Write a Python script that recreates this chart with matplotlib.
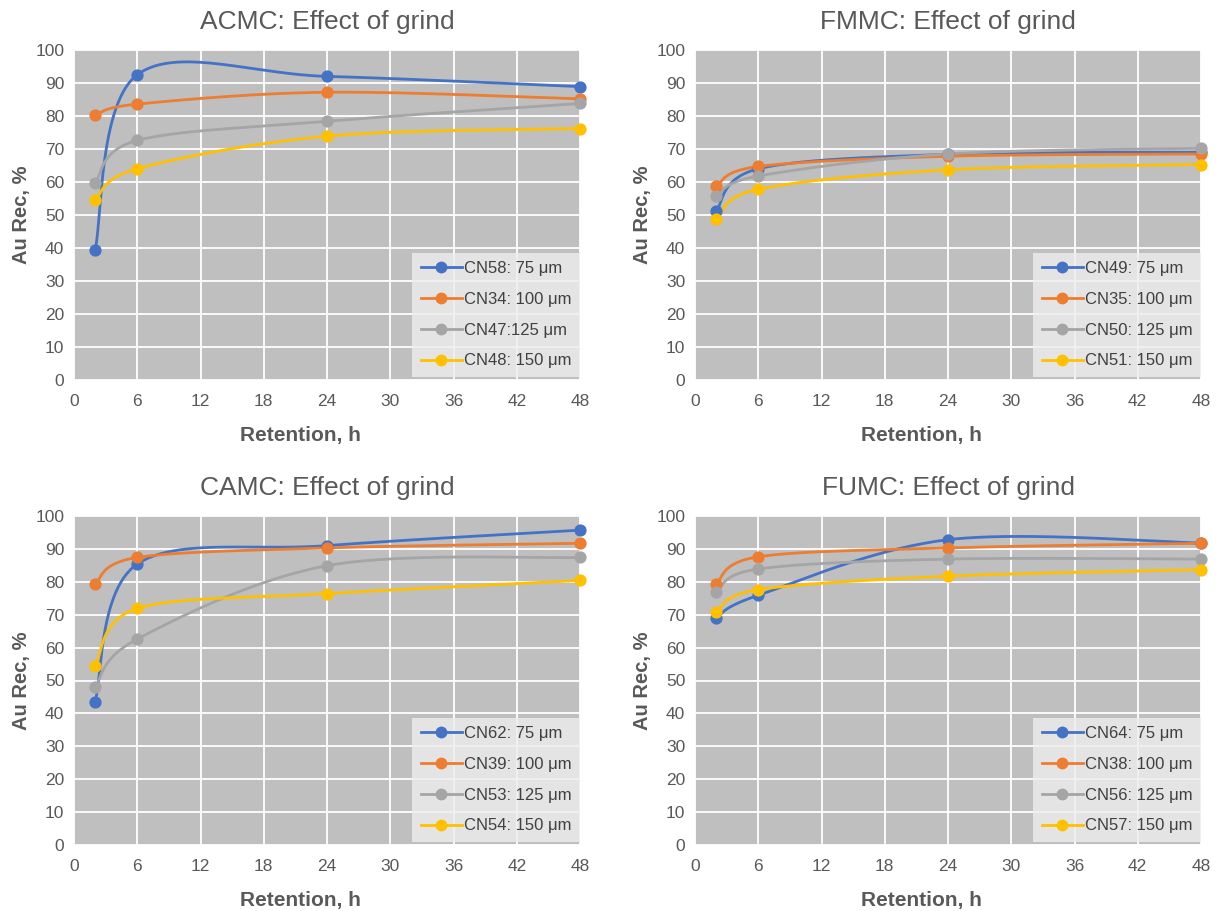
import numpy as np
import matplotlib
matplotlib.use("Agg")
import matplotlib.pyplot as plt
from matplotlib.lines import Line2D

plt.rcParams['font.family'] = ['Liberation Sans', 'DejaVu Sans']

# Retention times (h)
hours = [2, 6, 24, 48]

# ACMC
acmc_title = "ACMC: Effect of grind"
acmc_labels = ["CN58: 75 μm", "CN34: 100 μm", "CN47:125 μm", "CN48: 150 μm"]
acmc_75 = [39.4, 92.5, 92.0, 88.9]
acmc_100 = [80.2, 83.6, 87.2, 85.2]
acmc_125 = [59.8, 72.6, 78.4, 83.8]
acmc_150 = [54.5, 64.0, 73.9, 76.2]

# FMMC
fmmc_title = "FMMC: Effect of grind"
fmmc_labels = ["CN49: 75 μm", "CN35: 100 μm", "CN50: 125 μm", "CN51: 150 μm"]
fmmc_75 = [51.1, 64.0, 68.4, 69.0]
fmmc_100 = [58.7, 64.7, 67.8, 68.5]
fmmc_125 = [55.7, 61.8, 68.5, 70.2]
fmmc_150 = [48.7, 57.8, 63.7, 65.3]

# CAMC
camc_title = "CAMC: Effect of grind"
camc_labels = ["CN62: 75 μm", "CN39: 100 μm", "CN53: 125 μm", "CN54: 150 μm"]
camc_75 = [43.5, 85.4, 91.0, 95.7]
camc_100 = [79.4, 87.4, 90.3, 91.7]
camc_125 = [47.9, 62.6, 84.9, 87.4]
camc_150 = [54.4, 71.9, 76.4, 80.4]

# FUMC
fumc_title = "FUMC: Effect of grind"
fumc_labels = ["CN64: 75 μm", "CN38: 100 μm", "CN56: 125 μm", "CN57: 150 μm"]
fumc_75 = [69.0, 75.9, 92.8, 91.8]
fumc_100 = [79.4, 87.6, 90.3, 91.7]
fumc_125 = [76.9, 83.9, 86.9, 86.9]
fumc_150 = [70.7, 77.6, 81.7, 83.7]

x_ticks = [0, 6, 12, 18, 24, 30, 36, 42, 48]
y_ticks = [0, 10, 20, 30, 40, 50, 60, 70, 80, 90, 100]

colors = ["#4472C4", "#ED7D31", "#A5A5A5", "#FFC000"]
text_color = "#595959"
bg_color = "#BFBFBF"


def smooth_curve(x, y, n=60):
    """Cubic Bezier smoothing through the points (Catmull-Rom style)."""
    pts = np.column_stack([x, y]).astype(float)
    P = np.vstack([pts[0], pts, pts[-1]])
    t = np.linspace(0, 1, n)[:, None]
    out = []
    for i in range(1, len(P) - 2):
        p0, p1, p2, p3 = P[i - 1], P[i], P[i + 1], P[i + 2]
        c1 = p1 + (p2 - p0) / 6.0
        c2 = p2 - (p3 - p1) / 6.0
        B = ((1 - t) ** 3) * p1 + 3 * ((1 - t) ** 2) * t * c1 \
            + 3 * (1 - t) * t ** 2 * c2 + t ** 3 * p2
        out.append(B if i == 1 else B[1:])
    seg = np.vstack(out)
    return seg[:, 0], seg[:, 1]


W, H = 1219, 911
fig = plt.figure(figsize=(W / 100, H / 100), dpi=100)


def make_axes(left, top, right, bottom):
    return fig.add_axes([left / W, 1 - bottom / H, (right - left) / W, (bottom - top) / H])


panels = [
    (make_axes(74, 50, 580, 380), acmc_title, acmc_labels, [acmc_75, acmc_100, acmc_125, acmc_150]),
    (make_axes(695, 50, 1201, 380), fmmc_title, fmmc_labels, [fmmc_75, fmmc_100, fmmc_125, fmmc_150]),
    (make_axes(74, 516, 580, 845), camc_title, camc_labels, [camc_75, camc_100, camc_125, camc_150]),
    (make_axes(695, 516, 1201, 845), fumc_title, fumc_labels, [fumc_75, fumc_100, fumc_125, fumc_150]),
]

for ax, title, labels, series in panels:
    ax.set_facecolor(bg_color)
    for s in ax.spines.values():
        s.set_visible(False)
    ax.set_xlim(0, 48)
    ax.set_ylim(0, 100)
    ax.set_xticks(x_ticks)
    ax.set_yticks(y_ticks)
    ax.grid(True, color="white", linewidth=1.3)
    ax.set_axisbelow(True)
    ax.tick_params(axis="y", length=0, labelsize=12.5, labelcolor=text_color, pad=7)
    ax.tick_params(axis="x", length=0, labelsize=12.5, labelcolor=text_color, pad=10)

    handles = []
    for vals, col, lab in zip(series, colors, labels):
        sx, sy = smooth_curve(hours, vals)
        ax.plot(sx, sy, color=col, linewidth=2.0, solid_capstyle="round", zorder=3)
        ax.plot(hours, vals, linestyle="none", marker="o", markersize=7.8,
                color=col, zorder=4, clip_on=False)
        handles.append(Line2D([0], [0], color=col, linewidth=2.0, marker="o",
                              markersize=7.5, label=lab))

    ax.set_title(title, fontsize=19, color=text_color, pad=15)
    ax.set_xlabel("Retention, h", fontsize=15, fontweight="bold", color=text_color,
                  labelpad=12, x=0.447)
    ax.set_ylabel("Au Rec, %", fontsize=14.5, fontweight="bold", color=text_color, labelpad=3)

    leg = ax.legend(handles=handles, loc="lower right", bbox_to_anchor=(1.0, 0.01),
                    borderaxespad=0, fontsize=12, frameon=True, fancybox=False,
                    handlelength=2.45, handletextpad=0.15, labelspacing=0.95,
                    borderpad=0.5)
    frame = leg.get_frame()
    frame.set_facecolor("#EDEDED")
    frame.set_alpha(0.82)
    frame.set_edgecolor("none")
    for txt in leg.get_texts():
        txt.set_color("#404040")
    leg.set_zorder(5)

fig.savefig("out.png", dpi=100)
